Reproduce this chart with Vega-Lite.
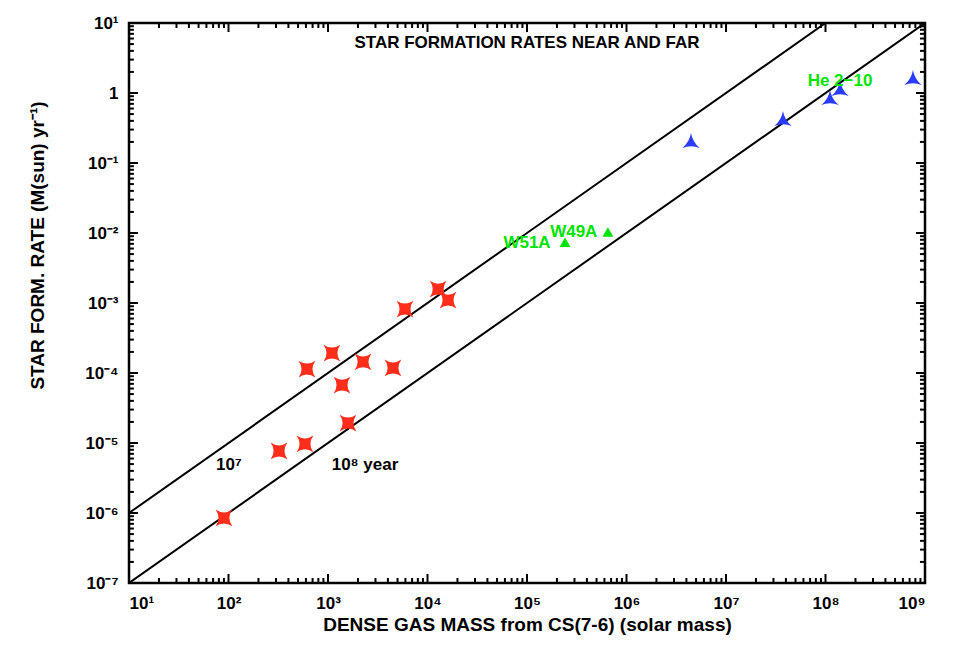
{
  "$schema": "https://vega.github.io/schema/vega-lite/v6.json",
  "width": 796,
  "height": 560,
  "autosize": "none",
  "padding": {"left": 129, "top": 23, "right": 40, "bottom": 82},
  "background": "white",
  "config": {
    "view": {"stroke": "black", "strokeWidth": 2.5},
    "axis": {
      "grid": false,
      "domain": false,
      "labelFont": "Liberation Sans",
      "labelFontSize": 17,
      "labelFontWeight": "bold",
      "labelColor": "black",
      "titleFont": "Liberation Sans",
      "titleFontSize": 19,
      "titleFontWeight": "bold",
      "titleColor": "black",
      "labelOverlap": false
    },
    "text": {"font": "Liberation Sans", "fontSize": 17, "fontWeight": "bold"}
  },
  "datasets": {
    "lines": [
      {"M": 10, "SFR": 1e-6, "line": "1e7"},
      {"M": 1e8, "SFR": 10, "line": "1e7"},
      {"M": 10, "SFR": 1e-7, "line": "1e8"},
      {"M": 1e9, "SFR": 10, "line": "1e8"}
    ],
    "red": [
      {"M": 90, "SFR": 8.5e-7},
      {"M": 322, "SFR": 7.7e-6},
      {"M": 587, "SFR": 9.7e-6},
      {"M": 615, "SFR": 1.14e-4},
      {"M": 1096, "SFR": 1.93e-4},
      {"M": 1383, "SFR": 6.7e-5},
      {"M": 2250, "SFR": 1.44e-4},
      {"M": 1590, "SFR": 1.93e-5},
      {"M": 4500, "SFR": 1.18e-4},
      {"M": 5940, "SFR": 8.2e-4},
      {"M": 12800, "SFR": 1.58e-3},
      {"M": 16100, "SFR": 1.1e-3}
    ],
    "green": [
      {"name": "W51A", "M": 241000, "SFR": 7.4e-3},
      {"name": "W49A", "M": 650000, "SFR": 1.03e-2}
    ],
    "blue": [
      {"M": 4.45e6, "SFR": 0.193},
      {"M": 3.74e7, "SFR": 0.398},
      {"M": 1.11e8, "SFR": 0.794},
      {"M": 1.4e8, "SFR": 1.07},
      {"M": 7.57e8, "SFR": 1.53}
    ],
    "labels": [
      {"text": "STAR FORMATION RATES NEAR AND FAR", "M": 100000, "SFR": 5.2, "kind": "title"},
      {"text": "10⁷", "M": 101, "SFR": 4.9e-6, "kind": "year"},
      {"text": "10⁸ year", "M": 2355, "SFR": 4.9e-6, "kind": "year"},
      {"text": "W51A", "M": 1.0e5, "SFR": 7.2e-3, "kind": "src"},
      {"text": "W49A", "M": 2.95e5, "SFR": 1.03e-2, "kind": "src"},
      {"text": "He 2−10", "M": 1.4e8, "SFR": 1.48, "kind": "src"}
    ],
    "xmajor": [{"M": 10}, {"M": 100}, {"M": 1000}, {"M": 1e4}, {"M": 1e5}, {"M": 1e6}, {"M": 1e7}, {"M": 1e8}, {"M": 1e9}],
    "xminor": [
      {"M": 20}, {"M": 30}, {"M": 40}, {"M": 50}, {"M": 60}, {"M": 70}, {"M": 80}, {"M": 90},
      {"M": 200}, {"M": 300}, {"M": 400}, {"M": 500}, {"M": 600}, {"M": 700}, {"M": 800}, {"M": 900},
      {"M": 2000}, {"M": 3000}, {"M": 4000}, {"M": 5000}, {"M": 6000}, {"M": 7000}, {"M": 8000}, {"M": 9000},
      {"M": 2e4}, {"M": 3e4}, {"M": 4e4}, {"M": 5e4}, {"M": 6e4}, {"M": 7e4}, {"M": 8e4}, {"M": 9e4},
      {"M": 2e5}, {"M": 3e5}, {"M": 4e5}, {"M": 5e5}, {"M": 6e5}, {"M": 7e5}, {"M": 8e5}, {"M": 9e5},
      {"M": 2e6}, {"M": 3e6}, {"M": 4e6}, {"M": 5e6}, {"M": 6e6}, {"M": 7e6}, {"M": 8e6}, {"M": 9e6},
      {"M": 2e7}, {"M": 3e7}, {"M": 4e7}, {"M": 5e7}, {"M": 6e7}, {"M": 7e7}, {"M": 8e7}, {"M": 9e7},
      {"M": 2e8}, {"M": 3e8}, {"M": 4e8}, {"M": 5e8}, {"M": 6e8}, {"M": 7e8}, {"M": 8e8}, {"M": 9e8}
    ],
    "ymajor": [{"SFR": 1e-7}, {"SFR": 1e-6}, {"SFR": 1e-5}, {"SFR": 1e-4}, {"SFR": 1e-3}, {"SFR": 1e-2}, {"SFR": 0.1}, {"SFR": 1}, {"SFR": 10}],
    "yminor": [
      {"SFR": 2e-7}, {"SFR": 3e-7}, {"SFR": 4e-7}, {"SFR": 5e-7}, {"SFR": 6e-7}, {"SFR": 7e-7}, {"SFR": 8e-7}, {"SFR": 9e-7},
      {"SFR": 2e-6}, {"SFR": 3e-6}, {"SFR": 4e-6}, {"SFR": 5e-6}, {"SFR": 6e-6}, {"SFR": 7e-6}, {"SFR": 8e-6}, {"SFR": 9e-6},
      {"SFR": 2e-5}, {"SFR": 3e-5}, {"SFR": 4e-5}, {"SFR": 5e-5}, {"SFR": 6e-5}, {"SFR": 7e-5}, {"SFR": 8e-5}, {"SFR": 9e-5},
      {"SFR": 2e-4}, {"SFR": 3e-4}, {"SFR": 4e-4}, {"SFR": 5e-4}, {"SFR": 6e-4}, {"SFR": 7e-4}, {"SFR": 8e-4}, {"SFR": 9e-4},
      {"SFR": 2e-3}, {"SFR": 3e-3}, {"SFR": 4e-3}, {"SFR": 5e-3}, {"SFR": 6e-3}, {"SFR": 7e-3}, {"SFR": 8e-3}, {"SFR": 9e-3},
      {"SFR": 2e-2}, {"SFR": 3e-2}, {"SFR": 4e-2}, {"SFR": 5e-2}, {"SFR": 6e-2}, {"SFR": 7e-2}, {"SFR": 8e-2}, {"SFR": 9e-2},
      {"SFR": 0.2}, {"SFR": 0.3}, {"SFR": 0.4}, {"SFR": 0.5}, {"SFR": 0.6}, {"SFR": 0.7}, {"SFR": 0.8}, {"SFR": 0.9},
      {"SFR": 2}, {"SFR": 3}, {"SFR": 4}, {"SFR": 5}, {"SFR": 6}, {"SFR": 7}, {"SFR": 8}, {"SFR": 9}
    ]
  },
  "layer": [
    {
      "data": {"name": "lines"},
      "mark": {"type": "line", "color": "black", "strokeWidth": 2, "clip": true},
      "encoding": {
        "x": {
          "field": "M", "type": "quantitative",
          "scale": {"type": "log", "domain": [10, 1e9], "nice": false},
          "axis": {
            "orient": "bottom",
            "title": "DENSE GAS MASS from  CS(7-6) (solar mass)",
            "values": [10, 100, 1000, 10000, 100000, 1000000, 10000000, 100000000, 1000000000],
            "labelExpr": "['1','10¹','10²','10³','10⁴','10⁵','10⁶','10⁷','10⁸','10⁹'][round(log(datum.value)/LN10)]",
            "tickOpacity": 0,
            "offset": -9,
            "tickSize": 9,
            "labelPadding": 12,
            "titlePadding": 4
          }
        },
        "y": {
          "field": "SFR", "type": "quantitative",
          "scale": {"type": "log", "domain": [1e-7, 10], "nice": false},
          "axis": {
            "orient": "left",
            "title": "STAR FORM. RATE (M(sun) yr⁻¹)",
            "values": [1e-7, 1e-6, 1e-5, 1e-4, 1e-3, 1e-2, 0.1, 1, 10],
            "labelExpr": "['10⁻⁷','10⁻⁶','10⁻⁵','10⁻⁴','10⁻³','10⁻²','10⁻¹','1','10¹'][round(log(datum.value)/LN10) + 7]",
            "tickOpacity": 0,
            "offset": -9,
            "tickSize": 9,
            "labelPadding": 11,
            "titleX": -101,
            "titleY": 222,
            "titleAlign": "center",
            "titleBaseline": "middle",
            "titleAngle": -90
          }
        },
        "detail": {"field": "line"}
      }
    },
    {
      "data": {"name": "xmajor"},
      "mark": {"type": "rule", "color": "black", "strokeWidth": 2},
      "encoding": {"x": {"field": "M", "type": "quantitative"}, "y": {"datum": 1e-7, "type": "quantitative"}, "y2": {"datum": 1.345e-7}}
    },
    {
      "data": {"name": "xminor"},
      "mark": {"type": "rule", "color": "black", "strokeWidth": 2},
      "encoding": {"x": {"field": "M", "type": "quantitative"}, "y": {"datum": 1e-7, "type": "quantitative"}, "y2": {"datum": 1.179e-7}}
    },
    {
      "data": {"name": "xmajor"},
      "mark": {"type": "rule", "color": "black", "strokeWidth": 2},
      "encoding": {"x": {"field": "M", "type": "quantitative"}, "y": {"datum": 10, "type": "quantitative"}, "y2": {"datum": 7.43}}
    },
    {
      "data": {"name": "xminor"},
      "mark": {"type": "rule", "color": "black", "strokeWidth": 2},
      "encoding": {"x": {"field": "M", "type": "quantitative"}, "y": {"datum": 10, "type": "quantitative"}, "y2": {"datum": 8.48}}
    },
    {
      "data": {"name": "ymajor"},
      "mark": {"type": "rule", "color": "black", "strokeWidth": 2},
      "encoding": {"y": {"field": "SFR", "type": "quantitative"}, "x": {"datum": 10, "type": "quantitative"}, "x2": {"datum": 12.3}}
    },
    {
      "data": {"name": "yminor"},
      "mark": {"type": "rule", "color": "black", "strokeWidth": 2},
      "encoding": {"y": {"field": "SFR", "type": "quantitative"}, "x": {"datum": 10, "type": "quantitative"}, "x2": {"datum": 11.2}}
    },
    {
      "data": {"name": "ymajor"},
      "mark": {"type": "rule", "color": "black", "strokeWidth": 2},
      "encoding": {"y": {"field": "SFR", "type": "quantitative"}, "x": {"datum": 1e9, "type": "quantitative"}, "x2": {"datum": 8.12e8}}
    },
    {
      "data": {"name": "yminor"},
      "mark": {"type": "rule", "color": "black", "strokeWidth": 2},
      "encoding": {"y": {"field": "SFR", "type": "quantitative"}, "x": {"datum": 1e9, "type": "quantitative"}, "x2": {"datum": 8.9e8}}
    },
    {
      "data": {"name": "red"},
      "mark": {"type": "point", "shape": "M -1 -1 Q 0 -0.3 1 -1 Q 0.3 0 1 1 Q 0 0.3 -1 1 Q -0.3 0 -1 -1 Z", "filled": true, "color": "#ff2d1a", "size": 280, "opacity": 1},
      "encoding": {
        "x": {"field": "M", "type": "quantitative"},
        "y": {"field": "SFR", "type": "quantitative"}
      }
    },
    {
      "data": {"name": "green"},
      "mark": {"type": "point", "shape": "triangle-up", "filled": true, "color": "#00e400", "size": 120, "opacity": 1},
      "encoding": {
        "x": {"field": "M", "type": "quantitative"},
        "y": {"field": "SFR", "type": "quantitative"}
      }
    },
    {
      "data": {"name": "blue"},
      "mark": {"type": "point", "shape": "M 0 -1 Q 0.15 -0.1 0.87 0.5 Q 0 0.15 -0.87 0.5 Q -0.15 -0.1 0 -1 Z", "filled": true, "color": "#2a3cff", "size": 400, "opacity": 1},
      "encoding": {
        "x": {"field": "M", "type": "quantitative"},
        "y": {"field": "SFR", "type": "quantitative"}
      }
    },
    {
      "data": {"name": "labels"},
      "mark": {"type": "text", "align": "center", "baseline": "middle"},
      "encoding": {
        "x": {"field": "M", "type": "quantitative"},
        "y": {"field": "SFR", "type": "quantitative"},
        "text": {"field": "text"},
        "color": {"field": "kind", "type": "nominal", "scale": {"domain": ["title", "year", "src"], "range": ["black", "black", "#00e400"]}, "legend": null}
      }
    }
  ]
}
